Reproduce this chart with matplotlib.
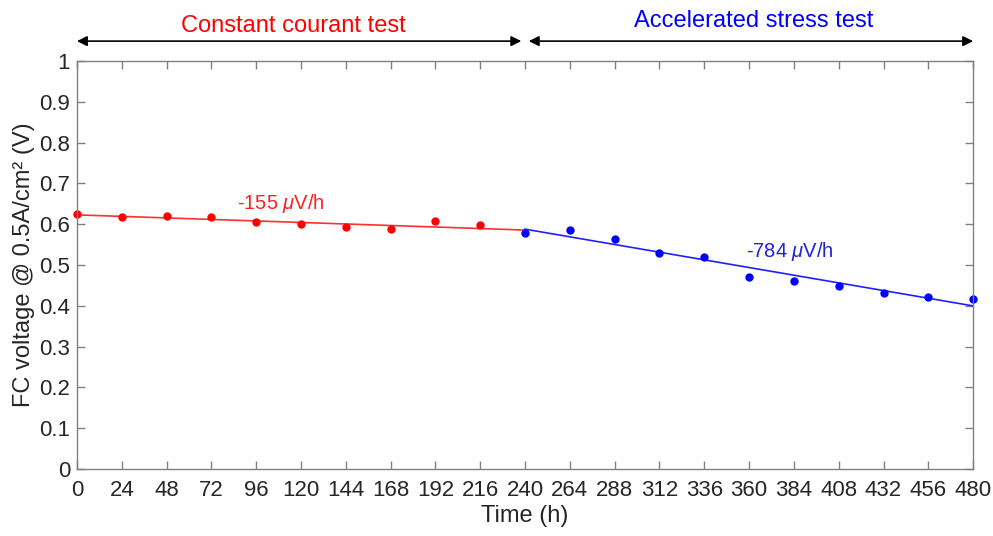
import matplotlib
matplotlib.use("Agg")
import matplotlib.pyplot as plt
import numpy as np

plt.rcParams['font.family'] = ['Liberation Sans', 'DejaVu Sans']
plt.rcParams['mathtext.fontset'] = 'custom'
plt.rcParams['mathtext.it'] = 'Liberation Sans:italic'
plt.rcParams['mathtext.rm'] = 'Liberation Sans'

# Constant current test
cc_time = [0, 24, 48, 72, 96, 120, 144, 168, 192, 216]
cc_volt = [0.624, 0.618, 0.621, 0.617, 0.605, 0.600, 0.594, 0.589, 0.608, 0.597]
# Accelerated stress test
ast_time = [240, 264, 288, 312, 336, 360, 384, 408, 432, 456, 480]
ast_volt = [0.578, 0.585, 0.564, 0.529, 0.519, 0.471, 0.462, 0.448, 0.432, 0.422, 0.417]

# Linear fits (start value, slope in V/h)
cc_fit_start, cc_fit_slope = 0.623, -155e-6
ast_fit_start, ast_fit_slope = 0.588, -784e-6

xticks = list(range(0, 481, 24))
yticks = [0, 0.1, 0.2, 0.3, 0.4, 0.5, 0.6, 0.7, 0.8, 0.9, 1]
ytick_labels = ['0', '0.1', '0.2', '0.3', '0.4', '0.5', '0.6', '0.7', '0.8', '0.9', '1']

fig = plt.figure(figsize=(9.93, 5.36), dpi=100)
ax = fig.add_axes([0.0775, 0.125, 0.9025, 0.761])

tc = np.array([0, 240])
ax.plot(tc, cc_fit_start + cc_fit_slope * (tc - 0), color='#ff3030', lw=1.2)
ta = np.array([240, 480])
ax.plot(ta, ast_fit_start + ast_fit_slope * (ta - 240), color='#2020ff', lw=1.2)

ax.plot(cc_time, cc_volt, 'o', color='#ff0000', ms=6, mec='none', clip_on=False)
ax.plot(ast_time, ast_volt, 'o', color='#0000ff', ms=6, mec='none', clip_on=False)

ax.text(109, 0.65, r'-155 $\mu$V/h', color='#ff2020', fontsize=14.5, ha='center', va='center')
ax.text(382, 0.532, r'-784 $\mu$V/h', color='#2020e0', fontsize=14.5, ha='center', va='center')

ax.set_xlim(0, 480)
ax.set_ylim(0, 1)
ax.set_xticks(xticks)
ax.set_yticks(yticks)
ax.set_yticklabels(ytick_labels)
ax.tick_params(direction='in', top=True, right=True, length=6, colors='#808080',
               labelcolor='#262626', labelsize=16, width=1)
ax.tick_params(axis='x', pad=8)
ax.tick_params(axis='y', pad=5)
for s in ax.spines.values():
    s.set_color('#808080')
    s.set_linewidth(1)
ax.set_xlabel('Time (h)', fontsize=17, color='#262626', labelpad=3)
ax.set_ylabel('FC voltage @ 0.5A/cm² (V)', fontsize=17, color='#262626', labelpad=3)

# Annotation arrows and phase titles
ay = 1.049
ax.annotate('', xy=(0, ay), xytext=(238, ay), xycoords='data', annotation_clip=False,
            arrowprops=dict(arrowstyle='<|-|>', color='black', lw=1.2, mutation_scale=15, shrinkA=0, shrinkB=0))
ax.annotate('', xy=(242, ay), xytext=(480, ay), xycoords='data', annotation_clip=False,
            arrowprops=dict(arrowstyle='<|-|>', color='black', lw=1.2, mutation_scale=15, shrinkA=0, shrinkB=0))
ax.text(116, 1.085, 'Constant courant test', color='#ff0000', fontsize=17, ha='center', va='center', clip_on=False)
ax.text(362.5, 1.098, 'Accelerated stress test', color='#0000ff', fontsize=17, ha='center', va='center', clip_on=False)

fig.savefig('out.png', dpi=100)
